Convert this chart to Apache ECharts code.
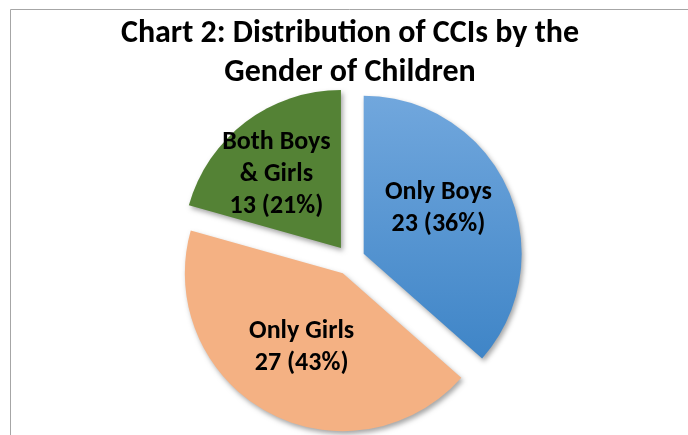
<!DOCTYPE html>
<html>
<head>
<meta charset="utf-8">
<script src="https://cdn.jsdelivr.net/npm/echarts@6/dist/echarts.min.js"></script>
<style>html,body{margin:0;padding:0;background:#fff}#c{width:688px;height:435px}</style>
</head>
<body>
<div id="c"></div>
<script>
const titleText = 'Chart 2: Distribution of CCIs by the\nGender of Children';
const categories = ['Only Boys', 'Only Girls', 'Both Boys\n& Girls'];
const values = [23, 27, 13];
const colors = [
  {type: 'linear', x: 0, y: 0, x2: 0, y2: 1, colorStops: [{offset: 0, color: '#71a7dd'}, {offset: 1, color: '#3f85c7'}]},
  '#f4b183',
  '#548235'
];
const labelShift = [[0, -12], [-2, 2], [-15, -8]];
const FONT = 'Carlito, Lato, "Liberation Sans", sans-serif';

const chart = echarts.init(document.getElementById('c'), null, {renderer: 'canvas'});
chart.setOption({
  animation: false,
  graphic: [{
    type: 'rect', silent: true,
    shape: {x: 10.5, y: 9.5, width: 720, height: 460},
    style: {fill: 'none', stroke: '#a6a6a6', lineWidth: 1}
  }],
  title: {
    text: titleText,
    left: 350, top: 14, textAlign: 'center', padding: 0,
    textStyle: {fontFamily: FONT, fontWeight: 'bold', fontSize: 32, lineHeight: 39, color: '#000'}
  },
  series: [{
    type: 'pie',
    center: [350, 260],
    radius: 158,
    startAngle: 90,
    clockwise: true,
    selectedMode: 'multiple',
    selectedOffset: 15,
    percentPrecision: 0,
    avoidLabelOverlap: false,
    emphasis: {disabled: true},
    itemStyle: {shadowBlur: 5, shadowColor: 'rgba(0,0,0,0.35)', shadowOffsetX: 2, shadowOffsetY: 3},
    select: {itemStyle: {borderWidth: 0}},
    label: {
      show: true, position: 'inside',
      formatter: '{b}\n{c} ({d}%)',
      fontFamily: FONT, fontWeight: 'bold', fontSize: 26, lineHeight: 32, color: '#000'
    },
    labelLine: {show: false},
    labelLayout: function (p) {
      const s = labelShift[p.dataIndex];
      return {dx: s[0], dy: s[1]};
    },
    data: categories.map((n, i) => ({
      name: n, value: values[i], selected: true,
      itemStyle: {color: colors[i]}
    }))
  }]
});
</script>
</body>
</html>
